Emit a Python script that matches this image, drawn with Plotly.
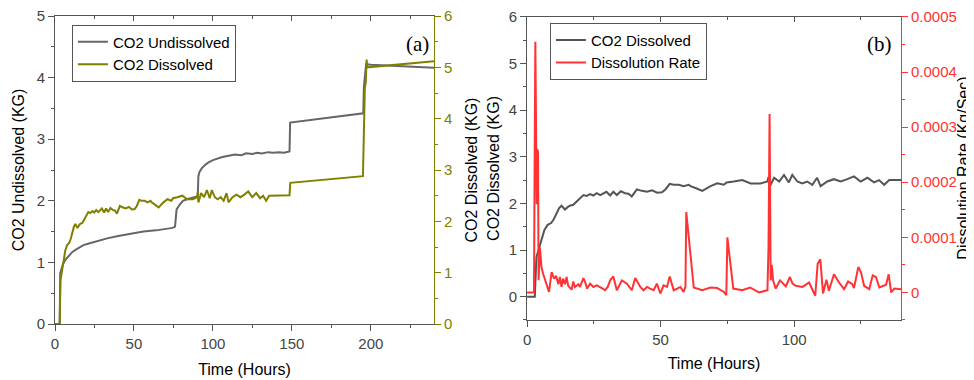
import plotly.graph_objects as go

# ---------------- data ----------------
# Panel (a): CO2 Undissolved (left axis, KG)
time_undissolved = [0, 2.0, 3.0, 3.3, 4.0, 5.0, 6.5, 8.5, 11, 14, 18, 22, 27, 33, 40, 48, 56, 64, 70,
                    74.5, 76.0, 77.0, 79, 81, 84, 87, 90.0, 90.4, 90.8, 91.5, 93, 95, 97, 100, 103, 106,
                    110, 114, 118, 121, 125, 128, 131, 135, 138, 142, 145, 148.5, 148.9, 195.2, 195.6,
                    196.3, 197.0, 200, 240]
co2_undissolved = [0, 0, 0, 0.82, 0.9, 0.97, 1.04, 1.1, 1.17, 1.22, 1.28, 1.31, 1.35, 1.39, 1.43, 1.47,
                   1.50, 1.52, 1.54, 1.56, 1.58, 1.86, 1.94, 2.0, 2.03, 2.05, 2.07, 2.09, 2.40, 2.47,
                   2.53, 2.58, 2.62, 2.66, 2.69, 2.71, 2.73, 2.75, 2.74, 2.77, 2.76, 2.78, 2.77, 2.79,
                   2.78, 2.79, 2.78, 2.80, 3.27, 3.42, 3.85, 4.12, 4.22, 4.21, 4.16]

# CO2 Dissolved (KG) -- shared by panel (a) right axis and panel (b) left axis
time_dissolved = [0, 2.9, 3.5, 4.3, 5.3, 6.5, 7.7, 9.0, 10.0, 11.0, 12.0, 12.9, 14.2, 15.2, 16.0, 17.3,
                  18.6, 19.8, 21.1, 22.3, 23.6, 24.8, 26.1, 27.4, 28.6, 29.7, 31.1, 32.3, 33.6, 35.1,
                  36.7, 38.0, 39.2, 41.1, 43.0, 44.9, 46.8, 48.7, 50.5, 51.8, 53.4, 54.9, 56.8, 58.6,
                  60.5, 61.2, 63.5, 65.6, 68.7, 71.2, 73.7, 74.7, 77.4, 80.6, 83.7, 87.4, 90.0, 90.4,
                  90.8, 91.2, 92.5, 94.4, 96.2, 98.0, 99.3, 101.2, 103.0, 104.9, 106.8, 108.6, 109.9,
                  112.4, 114.9, 117.4, 119.9, 122.4, 124.9, 127.4, 129.9, 131.8, 133.7, 135.6, 148.5,
                  149.0, 195.0, 195.6, 196.2, 196.8, 197.3, 197.8, 240]
co2_dissolved = [0, 0, 0.85, 1.0, 1.22, 1.43, 1.54, 1.58, 1.66, 1.79, 1.9, 1.95, 1.87, 1.92, 1.95, 1.97,
                 2.04, 2.11, 2.18, 2.16, 2.20, 2.17, 2.22, 2.18, 2.21, 2.25, 2.17, 2.25, 2.18, 2.26,
                 2.22, 2.21, 2.15, 2.30, 2.27, 2.25, 2.28, 2.23, 2.24, 2.30, 2.42, 2.40, 2.40, 2.37,
                 2.40, 2.37, 2.32, 2.27, 2.37, 2.43, 2.40, 2.45, 2.47, 2.50, 2.43, 2.43, 2.47, 2.57,
                 2.37, 2.40, 2.55, 2.47, 2.61, 2.45, 2.61, 2.47, 2.43, 2.47, 2.40, 2.55, 2.37,
                 2.47, 2.52, 2.47, 2.52, 2.58, 2.47, 2.55, 2.45, 2.50, 2.40, 2.50, 2.51,
                 2.75, 2.88, 4.0, 4.6, 4.7, 5.15, 5.0, 5.12]

# Panel (b): Dissolution rate (Kg/Sec)
time_rate = [0, 2.6, 2.8, 3.1, 3.6, 3.8, 4.1, 4.3, 4.8, 5.4, 6.0, 6.9, 8.2, 9.2, 10.1, 10.9, 11.7, 12.3,
             12.9, 13.5, 14.2, 14.8, 15.4, 16.7, 17.3, 17.9, 19.2, 19.8, 21.1, 21.8, 22.5, 23.6, 24.8,
             26.1, 27.4, 28.3, 29.2, 30.2, 31.1, 32.3, 33.6, 35.5, 37.4, 38.3, 39.2, 40.5, 42.4, 43.6,
             44.9, 46.1, 47.4, 48.6, 49.9, 51.1, 52.4, 53.4, 54.9, 56.2, 57.4, 58.6, 59.3, 59.6, 62.4,
             65.6, 68.7, 71.2, 73.7, 74.6, 75.0, 77.2, 80.6, 83.5, 86.8, 90.0, 90.4, 90.8, 91.2, 91.6,
             92.1, 93.1, 94.7, 96.9, 98.4, 99.4, 100.6, 103.1, 105.6, 107.9, 108.8, 109.8, 110.8,
             112.1, 113.0, 114.9, 116.8, 118.7, 120.2, 121.8, 122.4, 124.0, 125.0, 126.2, 128.1,
             129.4, 130.6, 131.9, 133.1, 134.4, 135.4, 136.3, 137.5, 140]
dissolution_rate = [0, 0, 2.1e-4, 4.55e-4, 1.6e-4, 2.6e-4, 2.55e-4, 0.22e-4, 0.82e-4, 0.46e-4, 0.34e-4,
                    0.2e-4, 0.01e-4, 0.37e-4, 0.25e-4, 0.3e-4, 0.15e-4, 0.28e-4, 0.1e-4, 0.25e-4,
                    0.15e-4, 0.28e-4, 0.12e-4, 0.05e-4, 0.2e-4, 0.1e-4, 0.15e-4, 0.1e-4, 0.26e-4,
                    0.18e-4, 0.07e-4, 0.16e-4, 0.1e-4, 0.13e-4, 0.1e-4, 0.07e-4, 0.04e-4, 0.1e-4,
                    0.22e-4, 0.29e-4, 0.04e-4, 0.22e-4, 0.16e-4, 0.1e-4, 0.04e-4, 0.26e-4, 0.1e-4,
                    0.04e-4, 0.1e-4, 0.07e-4, 0.04e-4, 0.16e-4, -0.02e-4, 0.13e-4, 0.1e-4, 0.29e-4,
                    0.04e-4, 0.07e-4, 0.1e-4, 0.01e-4, 0.1e-4, 1.46e-4, 0.09e-4, 0.04e-4, 0.09e-4,
                    0.08e-4, 0.01e-4, -0.05e-4, 1.0e-4, 0.07e-4, 0.04e-4, 0.09e-4, 0.0, 0.04e-4,
                    0.82e-4, 3.24e-4, 0.22e-4, 0.5e-4, 0.22e-4, 0.07e-4, 0.22e-4, 0.11e-4, 0.28e-4,
                    0.16e-4, 0.12e-4, 0.1e-4, 0.18e-4, -0.06e-4, 0.52e-4, 0.6e-4, -0.02e-4, 0.23e-4,
                    0.03e-4, 0.33e-4, 0.18e-4, 0.06e-4, 0.2e-4, 0.15e-4, 0.08e-4, 0.46e-4, 0.37e-4,
                    0.12e-4, 0.06e-4, 0.31e-4, 0.28e-4, 0.09e-4, 0.12e-4, 0.14e-4, 0.33e-4, 0.0,
                    0.07e-4, 0.06e-4]

# Tick labels
xa_ticks = [0, 50, 100, 150, 200]
xb_ticks = [0, 50, 100]
rate_tickvals = [0, 1e-4, 2e-4, 3e-4, 4e-4, 5e-4]
rate_ticktext = ["0", "0.0001", "0.0002", "0.0003", "0.0004", "0.0005"]

# ---------------- styling ----------------
FONT = "Liberation Sans, Arial, sans-serif"
GRAY_A = "#666666"
GRAY_B = "#555555"
OLIVE = "#808000"
RED = "#ff3333"
AXIS = "#555555"
TICKFONT = dict(family=FONT, size=15, color="#444444")
TITLEFONT = dict(family=FONT, size=16, color="#000000")

fig = go.Figure()
fig.add_trace(go.Scatter(x=time_undissolved, y=co2_undissolved, name="CO2 Undissolved", mode="lines",
                         line=dict(color=GRAY_A, width=2), xaxis="x", yaxis="y", legend="legend"))
fig.add_trace(go.Scatter(x=time_dissolved, y=co2_dissolved, name="CO2 Dissolved", mode="lines",
                         line=dict(color=OLIVE, width=2), xaxis="x", yaxis="y2", legend="legend"))
fig.add_trace(go.Scatter(x=time_dissolved, y=co2_dissolved, name="CO2 Dissolved", mode="lines",
                         line=dict(color=GRAY_B, width=2), xaxis="x2", yaxis="y3", legend="legend2"))
fig.add_trace(go.Scatter(x=time_rate, y=dissolution_rate, name="Dissolution Rate", mode="lines",
                         line=dict(color=RED, width=2), xaxis="x2", yaxis="y4", legend="legend2"))
# helper traces so the top (inside-tick) axes get drawn
fig.add_trace(go.Scatter(x=[None], y=[None], xaxis="x3", yaxis="y", showlegend=False, hoverinfo="skip"))
fig.add_trace(go.Scatter(x=[None], y=[None], xaxis="x4", yaxis="y3", showlegend=False, hoverinfo="skip"))

common = dict(showgrid=False, zeroline=False, showline=True, linewidth=1, ticks="outside",
              ticklen=6, tickwidth=1, automargin=False, ticklabeloverflow="allow")

dom_a = [0, 0.448]
dom_b = [0.558, 1.0]

# the page body adds an 8px offset, so the figure is 8px smaller and shifted accordingly
fig.update_layout(
    width=966, height=372,
    margin=dict(l=47, r=73, t=8, b=56, autoexpand=False),
    paper_bgcolor="white", plot_bgcolor="white",
    font=dict(family=FONT, size=15, color="#000"),
    xaxis=dict(**common, domain=dom_a, range=[0, 240], anchor="y", tickvals=xa_ticks,
               linecolor=AXIS, tickcolor=AXIS, tickfont=TICKFONT,
               minor=dict(ticks="outside", ticklen=3, tick0=0, dtick=25, tickcolor=AXIS),
               title=dict(text="Time (Hours)", font=TITLEFONT, standoff=12)),
    xaxis3=dict(overlaying="x", side="top", anchor="y", range=[0, 240], showgrid=False, zeroline=False,
                showline=True, linecolor=AXIS, linewidth=1, ticks="inside", ticklen=5, tickcolor=AXIS,
                tickvals=xa_ticks, showticklabels=False, automargin=False,
                minor=dict(ticks="inside", ticklen=3, tick0=0, dtick=25, tickcolor=AXIS)),
    yaxis=dict(**common, domain=[0, 1], range=[0, 5], anchor="x", dtick=1,
               linecolor=AXIS, tickcolor=AXIS, tickfont=TICKFONT,
               minor=dict(ticks="outside", ticklen=3, tick0=0, dtick=0.5, tickcolor=AXIS),
               title=dict(text="CO2 Undissolved (KG)", font=TITLEFONT, standoff=8)),
    yaxis2=dict(**common, overlaying="y", side="right", anchor="x", range=[0, 6], dtick=1,
                linecolor=OLIVE, tickcolor=OLIVE, tickfont=dict(family=FONT, size=15, color=OLIVE),
                minor=dict(ticks="outside", ticklen=3, tick0=0, dtick=0.5, tickcolor=OLIVE),
                title=dict(text="CO2 Dissolved (KG)", font=TITLEFONT, standoff=14)),
    xaxis2=dict(**common, domain=dom_b, range=[0, 140], anchor="y3", tickvals=xb_ticks,
                linecolor=AXIS, tickcolor=AXIS, tickfont=TICKFONT,
                minor=dict(ticks="outside", ticklen=3, tick0=0, dtick=25, tickcolor=AXIS),
                title=dict(text="Time (Hours)", font=TITLEFONT, standoff=10)),
    xaxis4=dict(overlaying="x2", side="top", anchor="y3", range=[0, 140], showgrid=False, zeroline=False,
                showline=True, linecolor=AXIS, linewidth=1, ticks="inside", ticklen=5, tickcolor=AXIS,
                tickvals=xb_ticks, showticklabels=False, automargin=False,
                minor=dict(ticks="inside", ticklen=3, tick0=0, dtick=25, tickcolor=AXIS)),
    yaxis3=dict(**common, domain=[0.013, 0.997], range=[-0.5, 6], anchor="x2", tick0=0, dtick=1,
                linecolor=AXIS, tickcolor=AXIS, tickfont=TICKFONT,
                minor=dict(ticks="outside", ticklen=3, tick0=0, dtick=0.5, tickcolor=AXIS),
                title=dict(text="CO2 Dissolved (KG)", font=TITLEFONT, standoff=5)),
    yaxis4=dict(**common, overlaying="y3", side="right", anchor="x2", range=[-0.00005, 0.0005],
                tickvals=rate_tickvals, ticktext=rate_ticktext,
                linecolor=RED, tickcolor=RED, tickfont=dict(family=FONT, size=15, color=RED),
                minor=dict(ticks="outside", ticklen=3, tick0=0, dtick=0.00005, tickcolor=RED)),
    legend=dict(x=0.02, y=0.972, xanchor="left", yanchor="top", bgcolor="white",
                bordercolor=AXIS, borderwidth=1, font=dict(family=FONT, size=15, color="#000"),
                tracegroupgap=0),
    legend2=dict(x=0.585, y=0.978, xanchor="left", yanchor="top", bgcolor="white",
                 bordercolor=AXIS, borderwidth=1, font=dict(family=FONT, size=15, color="#000"),
                 tracegroupgap=0),
    annotations=[
        dict(text="(a)", x=0.428, y=0.909, xref="paper", yref="paper", showarrow=False,
             xanchor="center", yanchor="middle",
             font=dict(family="Liberation Serif, Times New Roman, serif", size=21, color="#000")),
        dict(text="(b)", x=0.974, y=0.909, xref="paper", yref="paper", showarrow=False,
             xanchor="center", yanchor="middle",
             font=dict(family="Liberation Serif, Times New Roman, serif", size=21, color="#000")),
        dict(text="Dissolution Rate (Kg/Sec)", x=1.0735, y=0.505, xref="paper", yref="paper",
             showarrow=False, textangle=-90, xanchor="center", yanchor="middle",
             font=TITLEFONT),
    ],
)

fig.write_html("out.html")
